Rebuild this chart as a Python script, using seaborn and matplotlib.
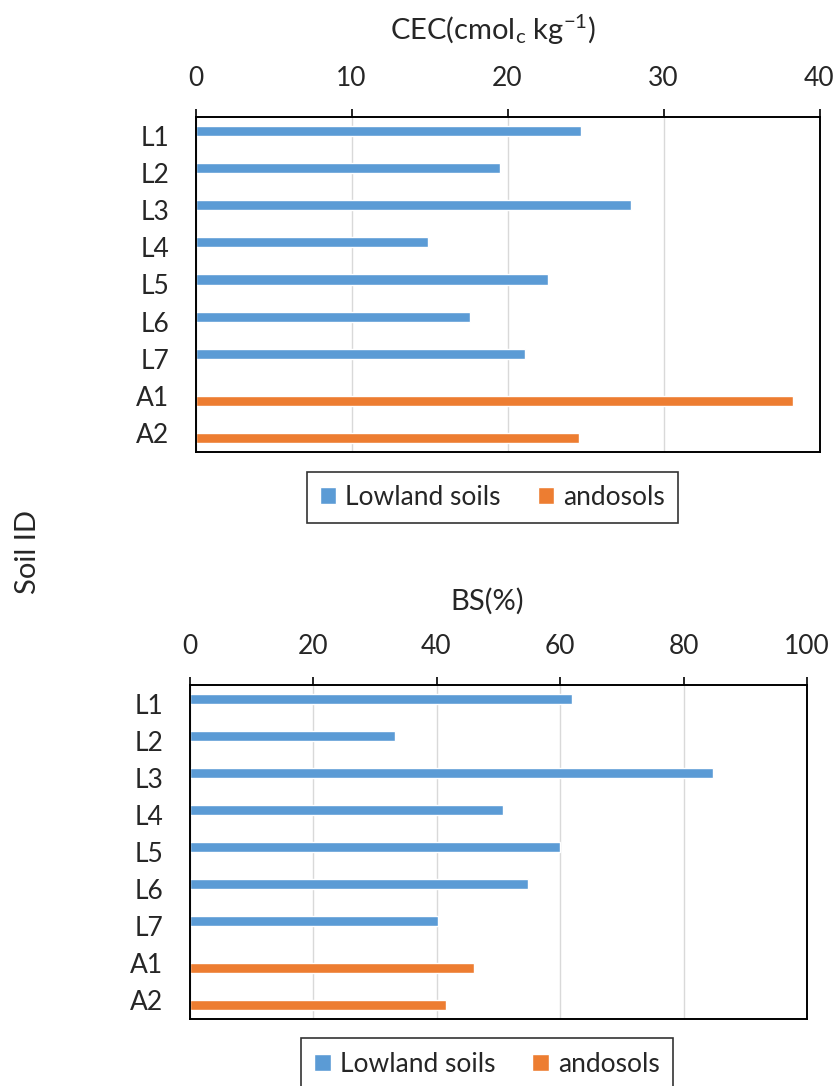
import matplotlib
matplotlib.use("Agg")
import matplotlib.pyplot as plt
import seaborn as sns
import pandas as pd

# Soil samples and their measured properties
soil_ids = ["L1", "L2", "L3", "L4", "L5", "L6", "L7", "A1", "A2"]
soil_groups = ["Lowland soils"] * 7 + ["andosols"] * 2
cec_values = [24.7, 19.5, 27.9, 14.9, 22.6, 17.6, 21.1, 38.3, 24.6]
bs_values = [62.0, 33.2, 84.8, 50.8, 60.0, 54.8, 40.2, 46.1, 41.6]

group_order = ["Lowland soils", "andosols"]
group_colors = {"Lowland soils": "#5B9BD5", "andosols": "#ED7D31"}

cec_ticks = [0, 10, 20, 30, 40]
bs_ticks = [0, 20, 40, 60, 80, 100]

df = pd.DataFrame({
    "Soil ID": soil_ids,
    "Group": soil_groups,
    "CEC": cec_values,
    "BS": bs_values,
})

sns.set_theme(style="white")
plt.rcParams["font.family"] = ["Lato", "DejaVu Sans"]
plt.rcParams["mathtext.default"] = "regular"

FS = 19
W, H = 835, 1086
fig = plt.figure(figsize=(W / 100, H / 100), dpi=100)


def px_axes(left, top, right, bottom):
    return fig.add_axes([left / W, 1 - bottom / H, (right - left) / W, (bottom - top) / H])


def draw_panel(ax, col, ticks, label, label_xy, legend_center):
    sns.barplot(data=df, y="Soil ID", x=col, hue="Group", hue_order=group_order,
                order=soil_ids, palette=group_colors, orient="h", dodge=True,
                width=0.54, errorbar=None, saturation=1, ax=ax)
    handles, labels = ax.get_legend_handles_labels()
    if ax.get_legend() is not None:
        ax.get_legend().remove()

    ax.set_xlim(ticks[0], ticks[-1])
    ax.set_xticks(ticks)
    ax.xaxis.tick_top()
    ax.xaxis.set_label_position("top")
    ax.set_xlabel(label, fontsize=FS + 2)
    ax.xaxis.set_label_coords(*label_xy)
    ax.xaxis.label.set_va("center")
    ax.set_ylabel("")
    ax.tick_params(axis="x", which="both", top=True, bottom=False, direction="out",
                   length=6, width=1.2, color="black", pad=13, labelsize=FS)
    ax.tick_params(axis="y", length=0, pad=19, labelsize=FS)
    ax.grid(axis="x", color="#D9D9D9", linewidth=1.0)
    ax.grid(axis="y", visible=False)
    ax.set_axisbelow(True)
    for s in ax.spines.values():
        s.set_visible(True)
        s.set_color("black")
        s.set_linewidth(1.4)

    leg = ax.legend(handles, labels, loc="center",
                    bbox_to_anchor=(legend_center[0] / W, 1 - legend_center[1] / H),
                    bbox_transform=fig.transFigure, ncol=2, fontsize=FS,
                    frameon=True, fancybox=False, handlelength=0.62, handleheight=0.62,
                    handletextpad=0.35, columnspacing=1.4, borderpad=0.5)
    frame = leg.get_frame()
    frame.set_edgecolor("black")
    frame.set_linewidth(1.2)


ax_top = px_axes(195.5, 117, 819.5, 452)
draw_panel(ax_top, "CEC", cec_ticks, "CEC(cmol$_{c}$ kg$^{-1}$)",
           ((493.5 - 195.5) / 624, 1 + (117 - 30) / 335), (492.5, 497.5))

ax_bot = px_axes(189.5, 685, 807, 1019)
draw_panel(ax_bot, "BS", bs_ticks, "BS(%)",
           ((487 - 189.5) / 617.5, 1 + (685 - 601) / 334), (487, 1064))

fig.text(28 / W, 1 - 552 / H, "Soil ID", rotation=90, ha="center", va="center",
         fontsize=FS + 2)

fig.savefig("out.png", dpi=100)
